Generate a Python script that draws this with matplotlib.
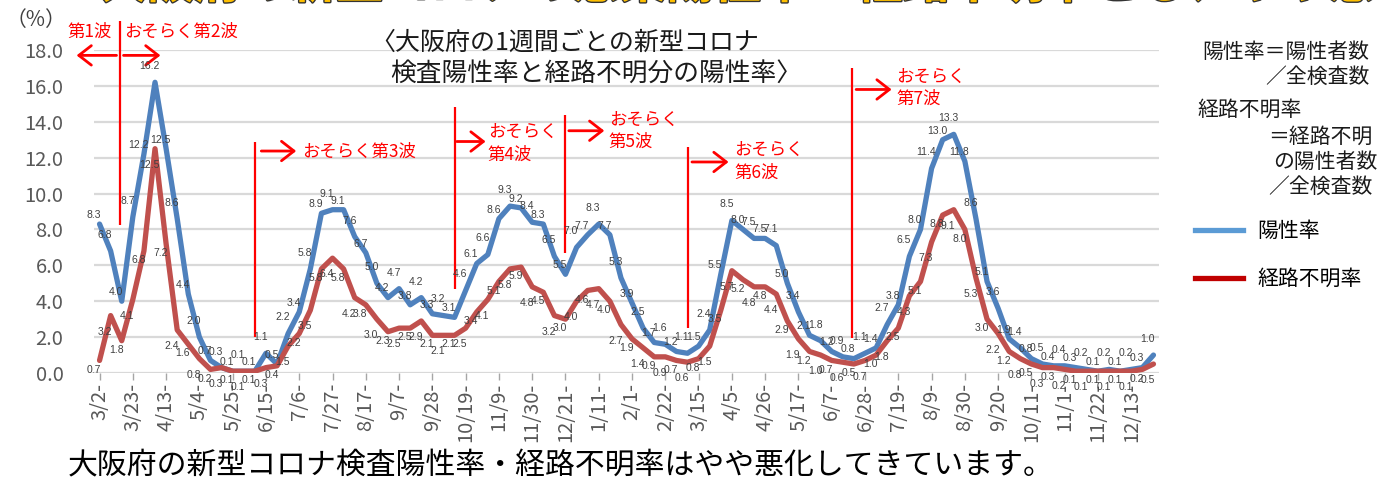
import numpy as np
import matplotlib.pyplot as plt
import matplotlib.patheffects as pe
from matplotlib.lines import Line2D

plt.rcParams['font.family'] = ['Noto Sans CJK JP', 'DejaVu Sans']

# --- DATA (weekly, from the week of 2020/3/2) ---
week_labels = ["3/2", "3/23", "4/13", "5/4", "5/25", "6/15", "7/6", "7/27",
               "8/17", "9/7", "9/28", "10/19", "11/9", "11/30", "12/21", "1/11",
               "2/1", "2/22", "3/15", "4/5", "4/26", "5/17", "6/7", "6/28",
               "7/19", "8/9", "8/30", "9/20", "10/11", "11/1", "11/22", "12/13"]

positive_rate = [8.3, 6.8, 4.0, 8.7, 12.2, 16.2, 12.5, 8.6, 4.4, 2.0,
                 0.7, 0.3, 0.1, 0.1, 0.1, 1.1, 0.5, 2.2, 3.4, 5.8,
                 8.9, 9.1, 9.1, 7.6, 6.7, 5.0, 4.2, 4.7, 3.8, 4.2,
                 3.3, 3.2, 3.1, 4.6, 6.1, 6.6, 8.6, 9.3, 9.2, 8.4,
                 8.3, 6.5, 5.5, 7.0, 7.7, 8.3, 7.7, 5.3, 3.9, 2.5,
                 1.7, 1.6, 1.2, 1.1, 1.5, 2.4, 5.5, 8.5, 8.0, 7.5,
                 7.5, 7.1, 5.0, 3.4, 2.1, 1.8, 1.2, 0.9, 0.8, 1.1,
                 1.4, 2.7, 3.8, 6.5, 8.0, 11.4, 13.0, 13.3, 11.8, 8.6,
                 5.1, 3.6, 1.9, 1.4, 0.8, 0.5, 0.4, 0.4, 0.3, 0.2,
                 0.1, 0.2, 0.1, 0.2, 0.3, 1.0]

unknown_rate = [0.7, 3.2, 1.8, 4.1, 6.8, 12.5, 7.2, 2.4, 1.6, 0.8,
                0.2, 0.3, 0.1, 0.1, 0.1, 0.3, 0.4, 1.5, 2.2, 3.5,
                5.8, 6.4, 5.8, 4.2, 3.8, 3.0, 2.3, 2.5, 2.5, 2.9,
                2.1, 2.1, 2.1, 2.5, 3.4, 4.1, 5.1, 5.8, 5.9, 4.8,
                4.5, 3.2, 3.0, 4.0, 4.6, 4.7, 4.0, 2.7, 1.9, 1.4,
                0.9, 0.9, 0.7, 0.6, 0.8, 1.5, 3.5, 5.7, 5.2, 4.8,
                4.8, 4.4, 2.9, 1.9, 1.2, 1.0, 0.7, 0.6, 0.5, 0.7,
                1.0, 1.8, 2.5, 4.3, 5.1, 7.3, 8.8, 9.1, 8.0, 5.3,
                3.0, 2.2, 1.2, 0.8, 0.5, 0.3, 0.3, 0.2, 0.1, 0.1,
                0.1, 0.1, 0.1, 0.1, 0.2, 0.5]

# wave markers (week index of the divider, text)
wave_x = [1.8, 14.0, 32.0, 42.0, 53.0, 67.8]
wave_names = ["おそらく第2波", "おそらく第3波", "おそらく\n第4波",
              "おそらく\n第5波", "おそらく\n第6波", "おそらく\n第7波"]

# --- Figure ---
W, H = 1378, 479
fig = plt.figure(figsize=(W / 100, H / 100), dpi=100)
ax = fig.add_axes([94 / W, 1 - 373 / H, (1159 - 94) / W, (373 - 50) / H])

x = np.arange(len(positive_rate))
ax.plot(x, positive_rate, color='#4F81BD', lw=3.8,
        solid_joinstyle='round', solid_capstyle='round', zorder=3)
ax.plot(x, unknown_rate, color='#C0504D', lw=3.8,
        solid_joinstyle='round', solid_capstyle='round', zorder=4)

# data labels, staggered like the original
for i, (b, r) in enumerate(zip(positive_rate, unknown_rate)):
    step = 5 if i % 2 else 0
    ax.annotate(f"{b:.1f}", (i, b), xytext=(-4, 3 + step), textcoords='offset points',
                ha='center', va='bottom', fontsize=7.5, color='#404040',
                family='Liberation Sans', zorder=5)
    ax.annotate(f"{r:.1f}", (i, r), xytext=(-4, -3 - step), textcoords='offset points',
                ha='center', va='top', fontsize=7.5, color='#404040',
                family='Liberation Sans', zorder=5)

ax.set_xlim(-0.5, len(positive_rate) - 0.5)
ax.set_ylim(0, 18)
yt = np.arange(0, 18.1, 2)
ax.set_yticks(yt)
ax.set_yticklabels([f"{v:.1f}" for v in yt], fontsize=14.5, color='#595959')
ax.set_xticks(np.arange(0, len(positive_rate), 3))
ax.set_xticklabels([w + "-" for w in week_labels], rotation=90,
                   fontsize=14.5, color='#595959')
ax.tick_params(axis='y', length=0, pad=22)
ax.tick_params(axis='x', length=5, width=1, color='#a6a6a6', pad=2)
ax.grid(axis='y', color='#d9d9d9', lw=1.6)
ax.set_axisbelow(True)
for s in ax.spines.values():
    s.set_visible(False)

# --- wave dividers, arrows and labels ---
red = '#FF0000'
line_tops = [19.6, 12.9, 14.8, 14.4, 12.6, 17.0]
line_bots = [8.25, 2.0, 4.7, 6.7, 2.5, 1.95]
ax.vlines(wave_x, line_bots, line_tops, colors=red, lw=1.6, clip_on=False, zorder=2)

arrow_y = [17.7, 12.37, 12.9, 13.5, 11.76, 15.8]
arrow_x0 = [2.16, 14.58, 32.2, 42.3, 53.4, 68.2]
arrow_x1 = [5.49, 17.73, 34.8, 45.5, 56.7, 71.4]
text_x = [2.25, 18.3, 35.0, 45.9, 57.2, 71.8]
text_y = [19.0, 12.3, 12.8, 13.5, 11.8, 15.9]
aprops = dict(arrowstyle='->,head_length=0.45,head_width=0.35', color=red,
              lw=2, mutation_scale=20, shrinkA=0, shrinkB=0)
for x0, x1, ay, tx, ty, name in zip(arrow_x0, arrow_x1, arrow_y, text_x, text_y, wave_names):
    ax.annotate('', xy=(x1, ay), xytext=(x0, ay), arrowprops=aprops,
                annotation_clip=False)
    ax.text(tx, ty, name, color=red, fontsize=12.5, va='center', ha='left',
            linespacing=1.3)
# first wave (points left)
ax.annotate('', xy=(-2.07, 17.7), xytext=(1.53, 17.7), arrowprops=aprops,
            annotation_clip=False)
ax.text(-2.9, 19.0, "第1波", color=red, fontsize=12.5, va='center', ha='left')

# --- texts ---
fig.text(370 / W, 1 - 43 / H, "〈大阪府の1週間ごとの新型コロナ", fontsize=18,
         va='center', ha='left', color='#1a1a1a')
fig.text(390 / W, 1 - 75 / H, "検査陽性率と経路不明分の陽性率〉", fontsize=18.5,
         va='center', ha='left', color='#1a1a1a')
fig.text(6 / W, 1 - 20 / H, "（%）", fontsize=15, va='center', ha='left',
         color='#404040')

note_kw = dict(fontsize=15, va='center', color='#1a1a1a')
fig.text(1202 / W, 1 - 52 / H, "陽性率＝陽性者数", ha='left', **note_kw)
fig.text(1370 / W, 1 - 77 / H, "／全検査数", ha='right', **note_kw)
fig.text(1197 / W, 1 - 110 / H, "経路不明率", ha='left', **note_kw)
fig.text(1268 / W, 1 - 137 / H, "＝経路不明", ha='left', **note_kw)
fig.text(1273 / W, 1 - 162 / H, "の陽性者数", ha='left', **note_kw)
fig.text(1268 / W, 1 - 187 / H, "／全検査数", ha='left', **note_kw)

handles = [Line2D([], [], color='#5B9BD5', lw=3.8),
           Line2D([], [], color='#C00000', lw=3.8)]
fig.legend(handles, ["陽性率", "経路不明率"], loc='upper left',
           bbox_to_anchor=(1195 / W, 1 - 220 / H), frameon=False,
           fontsize=15, handlelength=2.3, handletextpad=0.7,
           labelspacing=1.25, borderpad=0, borderaxespad=0)

# cut-off headline at the very top
fig.text(100 / W, 1 + 2 / H, "大阪府の新型コロナの感染陽性率・経路不明率とも、やや悪化",
         fontsize=34, fontweight='bold', color='#FFC000', va='baseline', ha='left',
         path_effects=[pe.withStroke(linewidth=2, foreground='#333333')])

# caption at the bottom (covers the lower end of the tick labels)
fig.text(68 / W, 1 - 466 / H,
         "大阪府の新型コロナ検査陽性率・経路不明率はやや悪化してきています。",
         fontsize=21.5, va='center', ha='left', color='#000000',
         bbox=dict(facecolor='white', edgecolor='none', pad=2), zorder=10)

fig.savefig("out.png", dpi=100)
